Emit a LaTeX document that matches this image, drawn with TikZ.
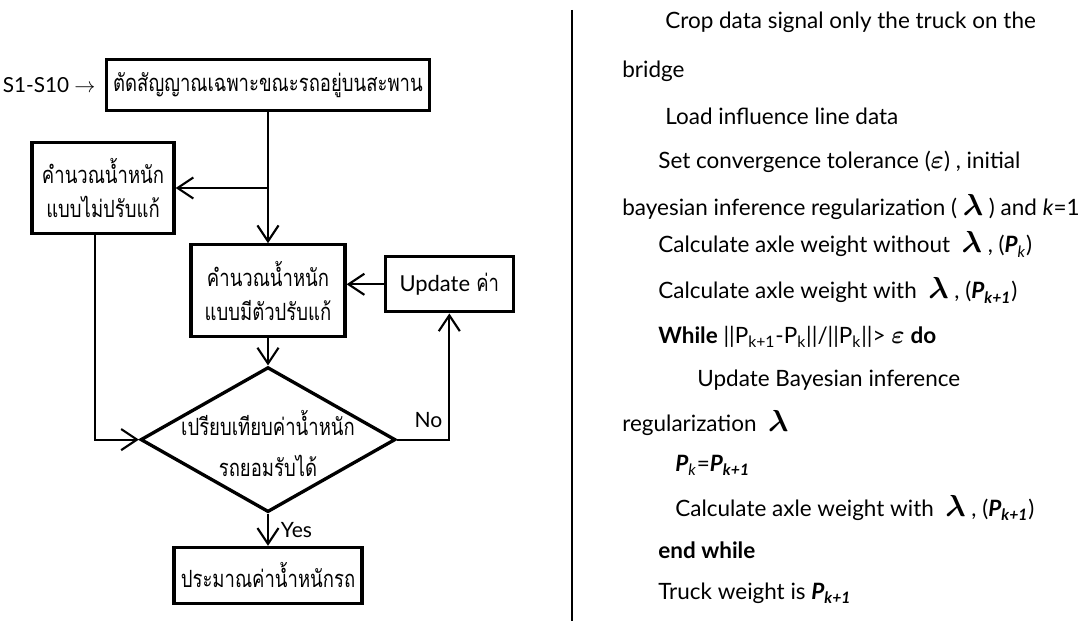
\documentclass[tikz,border=0pt]{standalone}
\usepackage{amsmath,amssymb}
\usepackage{fontspec}
\setmainfont{Lato}
\newfontfamily\thaifont[Script=Thai,FakeStretch=0.78]{Loma}
\usetikzlibrary{arrows.meta,positioning,shapes.geometric}

\newcommand{\Pk}{\textbf{\textit{P}}\textsubscript{\textit{k}}}
\newcommand{\Pkk}{\textbf{\textit{P\textsubscript{k+1}}}}
\newcommand{\lam}{{\fontsize{17}{17}\selectfont$\boldsymbol{\lambda}$}}
\newcommand{\eps}{{\fontsize{15}{15}\selectfont$\boldsymbol{\varepsilon}$}}

\begin{document}
\begin{tikzpicture}[
  x=0.02cm, y=-0.02cm,
  every node/.style={align=center},
  box/.style={draw,line width=1.9pt,inner sep=0pt,
              font=\thaifont\fontsize{13.5}{19.5}\selectfont},
  decision/.style={draw,diamond,line width=1.9pt,inner sep=0pt,
                   minimum width=5.1cm,minimum height=2.9cm},
  arr/.style={-{Straight Barb[length=9pt,width=12pt]},line width=1.2pt},
  alg/.style={anchor=base west,inner sep=0pt,font=\fontsize{12.8}{15}\selectfont}
]
\useasboundingbox (0,0) rectangle (1088,621);

% Flow chart.
\node[box,minimum width=6.46cm,minimum height=1.02cm] (cut) at (268,85)
     {ตัดสัญญาณเฉพาะขณะรถอยู่บนสะพาน};
\node[left=0.18cm of cut,font=\fontsize{11.8}{14}\selectfont,inner sep=0pt] (src)
     {S1-S10 $\rightarrow$};

\node[box,minimum width=2.84cm,minimum height=1.82cm] (calcA) at (103,188)
     {คำนวณน้ำหนัก\\แบบไม่ปรับแก้};

\node[box,below=2.62cm of cut,minimum width=3.08cm,minimum height=1.84cm] (calcB)
     {คำนวณน้ำหนัก\\แบบมีตัวปรับแก้};
\node[box,right=0.74cm of calcB,yshift=0.13cm,minimum width=2.56cm,
      minimum height=1.1cm] (upd) {{\rmfamily\fontsize{12.5}{14}\selectfont Update} ค่า};

\node[decision,below=0.54cm of calcB] (cmp) {};
\node[font=\thaifont\fontsize{13.5}{23}\selectfont,yshift=-0.08cm] (cmpT) at (cmp)
     {เปรียบเทียบค่าน้ำหนัก\\รถยอมรับได้};

\node[box,below=0.64cm of cmp,minimum width=3.76cm,minimum height=1.12cm] (est)
     {ประมาณค่าน้ำหนักรถ};

\coordinate (split) at (cut.south |- calcA.east);
\draw[arr] (cut.south) -- (calcB.north);
\draw[arr] (split) -- (calcA.east);
\draw[arr] (upd.west) -- (upd.west -| calcB.east);
\draw[arr] (calcB.south) -- (cmp.north);
\draw[arr] ([xshift=-0.16cm]calcA.south) |- (cmp.west);
\draw[arr] (cmp.east) -| node[pos=0.3,above=0.1cm,font=\fontsize{12}{14}\selectfont] {No}
     (upd.south);
\draw[arr] (cmp.south) -- node[right=0.12cm,font=\fontsize{12}{14}\selectfont] {Yes}
     (est.north);

% Divider.
\draw[line width=0.6pt] (572,10) -- (572,621);

% Algorithm.
\node[alg] (l1)  at (665,29)  {Crop data signal only the truck on the};
\node[alg] (l2)  at (622,78)  {bridge};
\node[alg] (l3)  at (665,125) {Load influence line data};
\node[alg] (l4)  at (658,169) {Set convergence tolerance (\eps) , initial};
\node[alg] (l5)  at (622,216) {bayesian inference regularization ( \lam\ ) and \textit{k}=1};
\node[alg] (l6)  at (658,253) {Calculate axle weight without \ \lam\ , (\Pk)};
\node[alg] (l7)  at (658,299) {Calculate axle weight with \ \lam\ , (\Pkk)};
\node[alg] (l8)  at (658,343) {\textbf{While} ||P\textsubscript{k+1}-P\textsubscript{k}||/||P\textsubscript{k}||> \eps\ \textbf{do}};
\node[alg] (l9)  at (697,386) {Update Bayesian inference};
\node[alg] (l10) at (622,431) {regularization \ \lam};
\node[alg] (l11) at (675,471) {\textbf{\textit{P}}\textsubscript{\textit{k}}=\Pkk};
\node[alg] (l12) at (675,516) {Calculate axle weight with \ \lam\ , (\Pkk)};
\node[alg] (l13) at (658,558) {\textbf{end while}};
\node[alg] (l14) at (658,599) {Truck weight is \Pkk};
\end{tikzpicture}
\end{document}
